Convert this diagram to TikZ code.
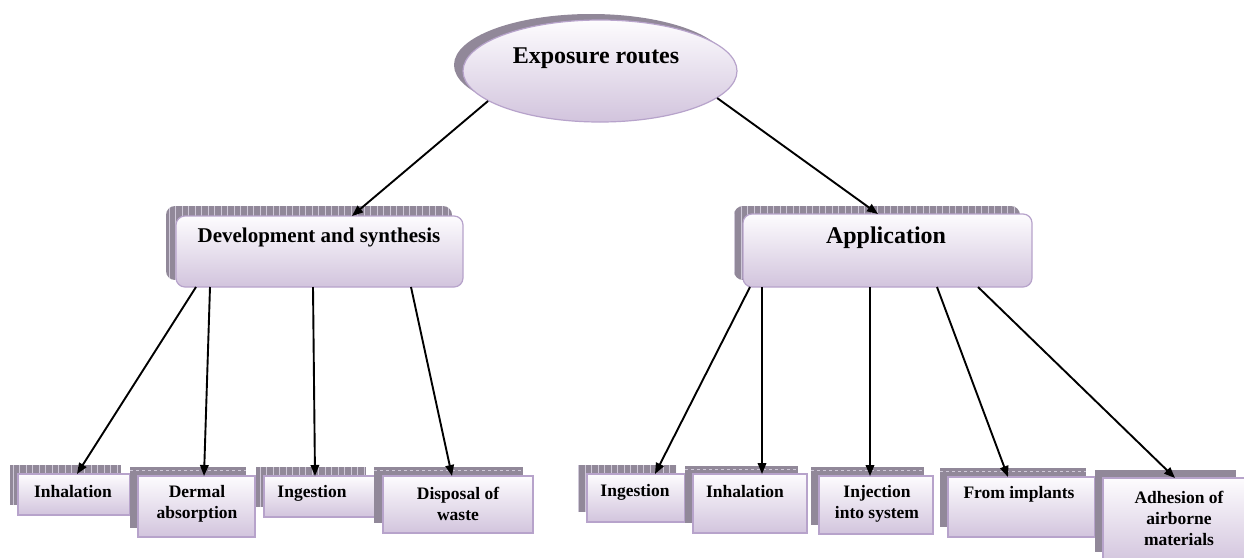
\documentclass[tikz,border=0pt]{standalone}
\usepackage{fontspec}
\setmainfont{Liberation Serif}
\usetikzlibrary{arrows.meta,shapes.geometric}
\definecolor{shad}{HTML}{918899}
\definecolor{gridc}{HTML}{CFC8D8}
\definecolor{bord}{HTML}{B7A3CB}
\definecolor{topc}{HTML}{FDFCFE}
\definecolor{botc}{HTML}{D2C4DD}
\tikzset{
  front/.style={draw=bord, line width=1.2pt, top color=topc, bottom color=botc,
    inner sep=0pt, outer sep=0pt, anchor=north west},
  lbl/.style={font=\bfseries\fontsize{17.5}{21}\selectfont, align=center, inner sep=0pt},
  toplbl/.style={font=\bfseries\fontsize{21}{25}\selectfont, inner sep=0pt},
  biglbl/.style={font=\bfseries\fontsize{24}{28}\selectfont, inner sep=0pt},
  arr/.style={line width=1.9pt, -{Triangle[length=11pt,width=8.5pt]}},
  gridline/.style={gridc, line width=0.5pt},
}
% #1 x0, #2 y0, #3 x1, #4 y1 of the shadow; #5 : 0 grid, 1 horizontal lines, 2 plain
\newcommand\shadowbox[5]{%
  \begin{scope}
    \clip (#1,#2) rectangle (#3,#4);
    \fill[shad] (#1,#2) rectangle (#3,#4);
    \ifcase#5
      \draw[gridline, step=6.5] (#1,#2) grid (#3,#4);
    \or
      \draw[gridline, xstep=2000, ystep=6.5] (#1,#2) grid (#3,#4);
      \draw[gridline, dashed] (#1,{#2+3}) -- (#3,{#2+3});
    \or
    \fi
  \end{scope}}
\newcommand\roundshadow[4]{%
  \begin{scope}
    \clip[rounded corners=9pt] (#1,#2) rectangle (#3,#4);
    \fill[shad] (#1,#2) rectangle (#3,#4);
    \draw[gridline, step=6.5] (#1,#2) grid (#3,#4);
  \end{scope}}
\begin{document}
\begin{tikzpicture}[x=1pt,y=-1pt]
\useasboundingbox (0,0) rectangle (1244,557);
\fill[white] (0,0) rectangle (1244,557);
\clip (0,0) rectangle (1244,557);

% ---------- root ellipse ----------
\fill[shad] (591,65) ellipse [x radius=137, y radius=51];
\node[ellipse, draw=bord, line width=1.2pt, top color=topc, bottom color=botc,
      minimum width=274pt, minimum height=102pt, inner sep=0pt] (ell) at (600,71) {};
\node[biglbl] (ellt) at (596,58) {Exposure routes};

% ---------- second level ----------
\roundshadow{166}{206}{452}{280}
\node[front, rounded corners=9pt, minimum width=287pt, minimum height=71pt] (dev) at (176,216) {};
\node[toplbl] (devt) at (319,237) {Development and synthesis};

\roundshadow{734}{206}{1020}{280}
\node[front, rounded corners=9pt, minimum width=289pt, minimum height=73pt] (app) at (743,214) {};
\node[biglbl] (appt) at (886,238) {Application};

% ---------- leaves, left group ----------
\shadowbox{10}{465}{121}{505}{0}
\node[front, minimum width=112pt, minimum height=41pt] (linh) at (18,474) {};
\node[lbl] (linht) at (73,492) {Inhalation};

\shadowbox{130}{467}{246}{528}{1}
\node[front, minimum width=117pt, minimum height=61pt] (lder) at (138,476) {};
\node[lbl] (ldert) at (197,503.5) {Dermal\\absorption};

\shadowbox{256}{467}{366}{507}{0}
\node[front, minimum width=111pt, minimum height=41pt] (ling) at (264,476) {};
\node[lbl] (lingt) at (312,493) {Ingestion};

\shadowbox{374}{467}{523}{523}{1}
\node[front, minimum width=150pt, minimum height=57pt] (ldis) at (383,476) {};
\node[lbl] (ldist) at (458,503.5) {Disposal of\\waste};

% ---------- leaves, right group ----------
\shadowbox{578}{465}{676}{512}{0}
\node[front, minimum width=98pt, minimum height=48pt] (ring) at (587,474) {};
\node[lbl] (ringt) at (635,492) {Ingestion};

\shadowbox{685}{466}{798}{523}{1}
\node[front, minimum width=114pt, minimum height=59pt] (rinh) at (693,474) {};
\node[lbl] (rinht) at (745,492) {Inhalation};

\shadowbox{811}{467}{924}{525}{1}
\node[front, minimum width=114pt, minimum height=58pt] (rinj) at (819,476) {};
\node[lbl] (rinjt) at (877,504) {Injection\\into system};

\shadowbox{940}{468}{1086}{527}{1}
\node[front, minimum width=147pt, minimum height=60pt] (rimp) at (948,477) {};
\node[lbl] (rimpt) at (1019,494) {From implants};

\shadowbox{1095}{470}{1236}{552}{2}
\node[front, minimum width=145pt, minimum height=86pt] (radh) at (1103,478) {};
\node[lbl] (radht) at (1179,518) {Adhesion of\\airborne\\materials};

% ---------- connectors ----------
\draw[arr] (ell.195) -- ([xshift=176pt]dev.north west);
\draw[arr] (ell.347) -- ([xshift=135pt]app.north west);

\draw[arr] ([xshift=20pt]dev.south west) -- ([xshift=59pt]linh.north west);
\draw[arr] ([xshift=34pt]dev.south west) -- ([xshift=66pt]lder.north west);
\draw[arr] ([xshift=137pt]dev.south west) -- ([xshift=51pt]ling.north west);
\draw[arr] ([xshift=235pt]dev.south west) -- ([xshift=69pt]ldis.north west);

\draw[arr] ([xshift=7pt]app.south west) -- ([xshift=68pt]ring.north west);
\draw[arr] ([xshift=19pt]app.south west) -- ([xshift=69pt]rinh.north west);
\draw[arr] ([xshift=127pt]app.south west) -- ([xshift=51pt]rinj.north west);
\draw[arr] ([xshift=194pt]app.south west) -- ([xshift=60pt]rimp.north west);
\draw[arr] ([xshift=235pt]app.south west) -- ([xshift=72pt]radh.north west);
\end{tikzpicture}
\end{document}
